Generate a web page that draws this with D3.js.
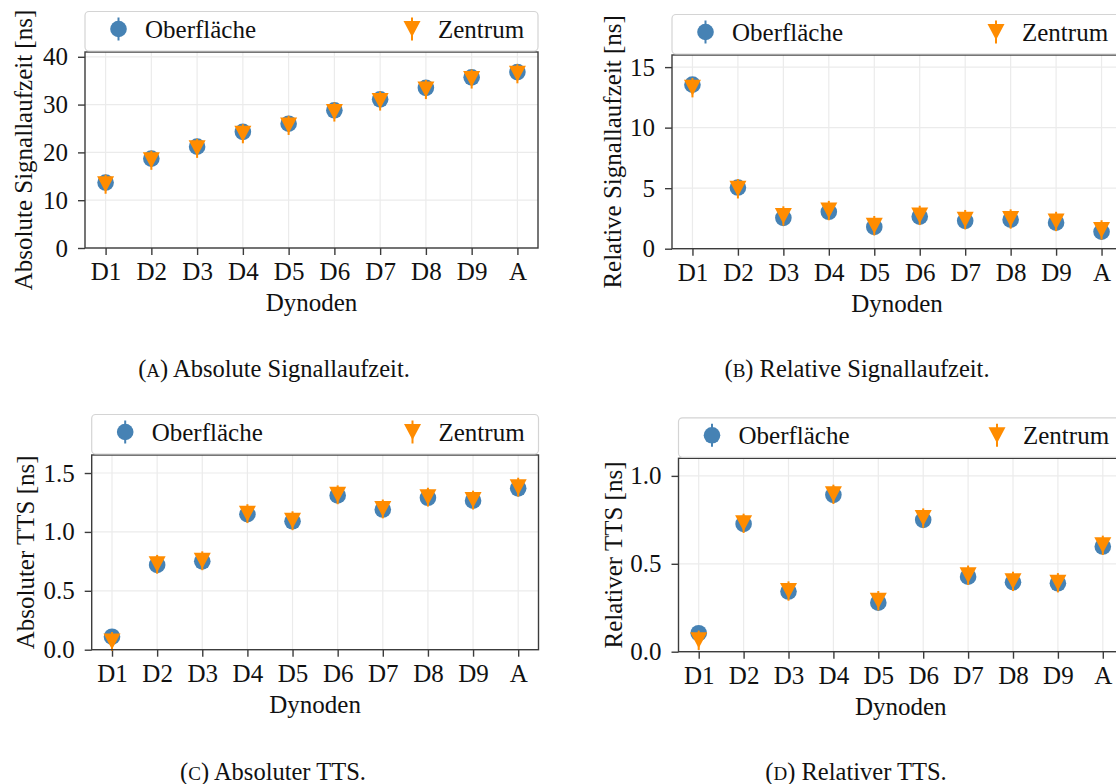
<!DOCTYPE html>
<html>
<head>
<meta charset="utf-8">
<script src="https://d3js.org/d3.v7.min.js"></script>
<style>
  body { margin: 0; background: #fff; }
  svg { font-family: "Liberation Serif", "Times New Roman", serif; }
  .grid line { stroke: #ebebeb; stroke-width: 1.2; }
  .axis line { stroke: #3c3c3c; stroke-width: 1.4; }
  .axis path { display: none; }
  .axis text { font-size: 25px; fill: #111; font-family: "Liberation Serif", serif; }
  .frame { fill: none; stroke: #3c3c3c; stroke-width: 1.4; }
  .label { font-size: 25px; fill: #111; }
  .legend rect { fill: #fff; fill-opacity: 0.85; stroke: #d4d4d4; stroke-width: 1.2; }
  .caption { font-size: 24.5px; fill: #111; }
</style>
</head>
<body>
<svg id="fig" width="1116" height="784"></svg>
<script>
// Dynoden on the x axis
const dynoden = ["D1", "D2", "D3", "D4", "D5", "D6", "D7", "D8", "D9", "A"];

// (A) absolute Signallaufzeit [ns]
const absLaufOber = [13.7, 18.7, 21.2, 24.3, 26.0, 28.8, 31.1, 33.5, 35.7, 36.8];
const absLaufZentrum = [13.35, 18.35, 20.85, 23.9, 25.65, 28.45, 30.75, 33.15, 35.35, 36.45];
const absLaufErrOber = [1.5, 1.5, 1.5, 1.5, 1.5, 1.5, 1.5, 1.5, 1.5, 1.5];
const absLaufErrZentrum = [2.0, 2.0, 2.0, 2.0, 2.0, 2.0, 2.0, 2.0, 2.0, 2.0];
const absLaufTicks = [0, 10, 20, 30, 40];

// (B) relative Signallaufzeit [ns]
const relLaufOber = [13.55, 5.05, 2.55, 3.05, 1.8, 2.65, 2.3, 2.4, 2.15, 1.4];
const relLaufZentrum = [13.3, 4.95, 2.7, 3.15, 1.9, 2.75, 2.4, 2.45, 2.25, 1.55];
const relLaufErrOber = [0.6, 0.6, 0.6, 0.6, 0.6, 0.6, 0.6, 0.6, 0.6, 0.6];
const relLaufErrZentrum = [0.8, 0.8, 0.8, 0.8, 0.8, 0.8, 0.8, 0.8, 0.8, 0.8];
const relLaufTicks = [0, 5, 10, 15];

// (C) absoluter TTS [ns]
const absTTSOber = [0.11, 0.72, 0.75, 1.15, 1.09, 1.31, 1.19, 1.29, 1.265, 1.37];
const absTTSZentrum = [0.07, 0.725, 0.755, 1.155, 1.095, 1.315, 1.195, 1.295, 1.27, 1.38];
const absTTSErrOber = [0.06, 0.06, 0.06, 0.06, 0.06, 0.06, 0.06, 0.06, 0.06, 0.06];
const absTTSErrZentrum = [0.08, 0.08, 0.08, 0.08, 0.08, 0.08, 0.08, 0.08, 0.08, 0.08];
const absTTSTicks = [0.0, 0.5, 1.0, 1.5];

// (D) relativer TTS [ns]
const relTTSOber = [0.105, 0.727, 0.342, 0.892, 0.279, 0.75, 0.427, 0.395, 0.389, 0.598];
const relTTSZentrum = [0.065, 0.73, 0.345, 0.895, 0.29, 0.76, 0.435, 0.40, 0.392, 0.605];
const relTTSErrOber = [0.04, 0.04, 0.04, 0.04, 0.04, 0.04, 0.04, 0.04, 0.04, 0.04];
const relTTSErrZentrum = [0.055, 0.055, 0.055, 0.055, 0.055, 0.055, 0.055, 0.055, 0.055, 0.055];
const relTTSTicks = [0.0, 0.5, 1.0];

const seriesNames = ["Oberfläche", "Zentrum"];
const blue = "#4682b4";
const orange = "#ff8c00";

const svg = d3.select("#fig");

// downward triangle, centred on its bounding box (like matplotlib "v")
function trianglePath(w, h) {
  return "M" + (-w) + "," + (-h) + "L" + w + "," + (-h) + "L0," + h + "Z";
}

function drawPanel(p) {
  const g = svg.append("g");

  const x = d3.scalePoint()
      .domain(dynoden)
      .range([p.left, p.right])
      .padding(0.45);
  const y = d3.scaleLinear()
      .domain([0, p.ymax])
      .range([p.bottom, p.top]);

  // grid
  const grid = g.append("g").attr("class", "grid");
  grid.selectAll(".gx").data(dynoden).join("line")
      .attr("x1", d => x(d)).attr("x2", d => x(d))
      .attr("y1", p.top).attr("y2", p.bottom);
  grid.selectAll(".gy").data(p.ticks).join("line")
      .attr("class", "gy")
      .attr("x1", p.left).attr("x2", p.right)
      .attr("y1", d => y(d)).attr("y2", d => y(d));

  // axes
  g.append("g")
      .attr("class", "axis")
      .attr("transform", "translate(0," + p.bottom + ")")
      .call(d3.axisBottom(x).tickSize(7).tickSizeOuter(0).tickPadding(7.5))
      .attr("font-family", null).attr("font-size", null);
  g.append("g")
      .attr("class", "axis")
      .attr("transform", "translate(" + p.left + ",0)")
      .call(d3.axisLeft(y).tickValues(p.ticks).tickFormat(p.fmt)
            .tickSize(7).tickSizeOuter(0).tickPadding(10))
      .attr("font-family", null).attr("font-size", null);

  // series
  const series = [
    {vals: p.ober, err: p.errOber, color: blue, shape: "circle"},
    {vals: p.zentrum, err: p.errZentrum, color: orange, shape: "tri"}
  ];
  series.forEach(s => {
    const sg = g.append("g");
    const pts = dynoden.map((d, i) => ({k: d, v: s.vals[i], e: s.err[i]}));
    sg.selectAll("line").data(pts).join("line")
        .attr("x1", d => x(d.k)).attr("x2", d => x(d.k))
        .attr("y1", d => y(d.v - d.e)).attr("y2", d => y(d.v + d.e))
        .attr("stroke", s.color).attr("stroke-width", 2);
    if (s.shape === "circle") {
      sg.selectAll("circle").data(pts).join("circle")
          .attr("cx", d => x(d.k)).attr("cy", d => y(d.v))
          .attr("r", 8.3).attr("fill", s.color);
    } else {
      sg.selectAll("path").data(pts).join("path")
          .attr("d", trianglePath(8.5, 8))
          .attr("transform", d => "translate(" + x(d.k) + "," + y(d.v) + ")")
          .attr("fill", s.color);
    }
  });

  g.append("rect").attr("class", "frame")
      .attr("x", p.left).attr("y", p.top)
      .attr("width", p.right - p.left).attr("height", p.bottom - p.top);

  // axis labels
  g.append("text").attr("class", "label")
      .attr("text-anchor", "middle")
      .attr("x", (p.left + p.right) / 2)
      .attr("y", p.bottom + 63)
      .text("Dynoden");
  g.append("text").attr("class", "label")
      .attr("text-anchor", "middle")
      .attr("transform", "translate(" + p.ylabelX + "," + (p.top + p.bottom) / 2 + ") rotate(-90)")
      .text(p.ylabel);

  // legend above the axes
  const lg = g.append("g").attr("class", "legend");
  const lTop = p.top - 40.5;
  lg.append("rect")
      .attr("x", p.left).attr("y", lTop)
      .attr("width", p.right - p.left).attr("height", 39.5)
      .attr("rx", 4);
  const my = lTop + 17.5;
  const items = [
    {name: seriesNames[0], mx: p.left + 33.5, tx: p.left + 60, color: blue, shape: "circle"},
    {name: seriesNames[1], mx: p.right - 126, tx: p.right - 100, color: orange, shape: "tri"}
  ];
  items.forEach(it => {
    lg.append("line")
        .attr("x1", it.mx).attr("x2", it.mx)
        .attr("y1", my - 11.5).attr("y2", my + 11.5)
        .attr("stroke", it.color).attr("stroke-width", 2);
    if (it.shape === "circle") {
      lg.append("circle").attr("cx", it.mx).attr("cy", my).attr("r", 8.3).attr("fill", it.color);
    } else {
      lg.append("path").attr("d", trianglePath(8.5, 8))
          .attr("transform", "translate(" + it.mx + "," + my + ")")
          .attr("fill", it.color);
    }
    lg.append("text").attr("class", "label")
        .attr("x", it.tx).attr("y", my + 8.5)
        .text(it.name);
  });
}

const fmtInt = d3.format("d");
const fmt1 = d3.format(".1f");

drawPanel({left: 85, right: 538, top: 52, bottom: 248, ymax: 41,
  ticks: absLaufTicks, fmt: fmtInt, ober: absLaufOber, zentrum: absLaufZentrum,
  errOber: absLaufErrOber, errZentrum: absLaufErrZentrum,
  ylabel: "Absolute Signallaufzeit [ns]", ylabelX: 31.5});
drawPanel({left: 672, right: 1122, top: 55, bottom: 248.7, ymax: 16,
  ticks: relLaufTicks, fmt: fmtInt, ober: relLaufOber, zentrum: relLaufZentrum,
  errOber: relLaufErrOber, errZentrum: relLaufErrZentrum,
  ylabel: "Relative Signallaufzeit [ns]", ylabelX: 621});
drawPanel({left: 91.7, right: 538.5, top: 455, bottom: 649.7, ymax: 1.653,
  ticks: absTTSTicks, fmt: fmt1, ober: absTTSOber, zentrum: absTTSZentrum,
  errOber: absTTSErrOber, errZentrum: absTTSErrZentrum,
  ylabel: "Absoluter TTS [ns]", ylabelX: 34});
drawPanel({left: 678.5, right: 1123, top: 458.3, bottom: 651.7, ymax: 1.1,
  ticks: relTTSTicks, fmt: fmt1, ober: relTTSOber, zentrum: relTTSZentrum,
  errOber: relTTSErrOber, errZentrum: relTTSErrZentrum,
  ylabel: "Relativer TTS [ns]", ylabelX: 622});

// captions under the panels
const captions = [
  {letter: "A", text: " Absolute Signallaufzeit.", x: 274, y: 377},
  {letter: "B", text: " Relative Signallaufzeit.", x: 857, y: 377},
  {letter: "C", text: " Absoluter TTS.", x: 273, y: 780},
  {letter: "D", text: " Relativer TTS.", x: 856, y: 780}
];
captions.forEach(c => {
  const t = svg.append("text").attr("class", "caption")
      .attr("x", c.x).attr("y", c.y).attr("text-anchor", "middle");
  t.append("tspan").text("(");
  t.append("tspan").attr("font-size", "19px").text(c.letter);
  t.append("tspan").text(")" + c.text);
});
</script>
</body>
</html>
